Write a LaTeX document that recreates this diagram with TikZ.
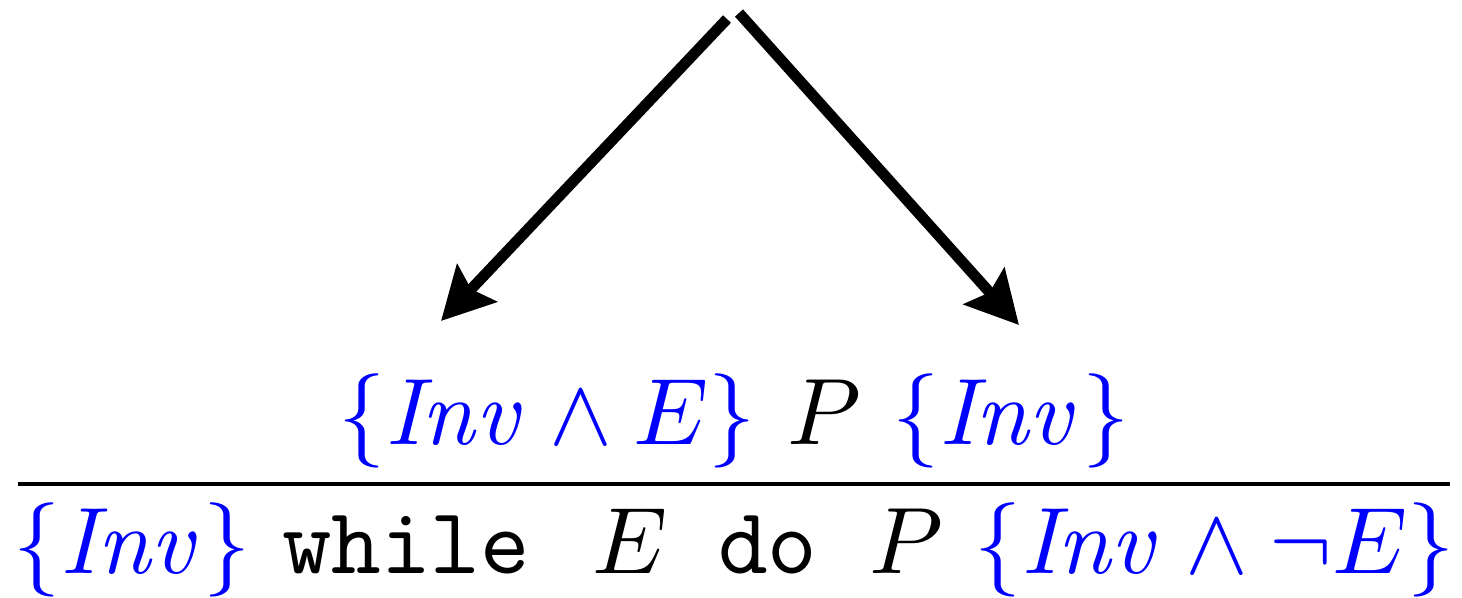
\documentclass[tikz,border=0pt]{standalone}
\usetikzlibrary{arrows.meta}
\begin{document}
\begin{tikzpicture}[x=0.106pt,y=-0.106pt,
  arr/.style={line width=1.15pt,-{Stealth[length=5.5pt,width=5.7pt,inset=0.85pt]}},
  txt/.style={inner sep=0pt,anchor=base},
  rulestyle/.style={line width=0.35pt}]
\useasboundingbox (0,0) rectangle (1462,597);
\coordinate (topL) at (727,19);
\coordinate (topR) at (739,13);
\coordinate (tipL) at (441,321);
\coordinate (tipR) at (1019,325);
\node[txt] (prem) at (734,444) {$\color{blue}\{\mathit{Inv}\land E\}\ \color{black}P\ \color{blue}\{\mathit{Inv}\}$};
\node[txt] (concl) at (734,573) {$\color{blue}\{\mathit{Inv}\}$ \texttt{while}\hspace{6.6pt}$E$\hspace{5.4pt}\texttt{do}\hspace{5.5pt}$P$ $\color{blue}\{\mathit{Inv}\land\neg E\}$};
\coordinate (rl) at (18,484);
\coordinate (rr) at (1450,484);
\draw[rulestyle] (rl) -- (rr);
\draw[arr] (topL) -- (tipL);
\draw[arr] (topR) -- (tipR);
\end{tikzpicture}
\end{document}
